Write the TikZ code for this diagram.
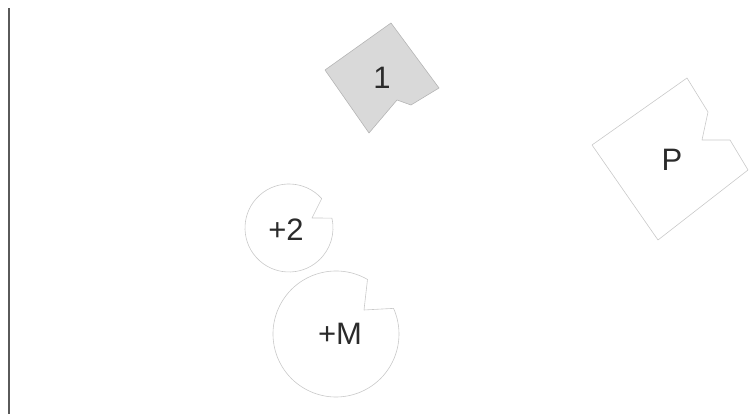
\documentclass[tikz,border=0pt]{standalone}
\usepackage{fontspec}
\setmainfont{Liberation Sans}
\usetikzlibrary{positioning,calc}
\definecolor{cEdge}{HTML}{C9C9C9}
\definecolor{cPiece}{HTML}{D9D9D9}
\definecolor{cPieceEdge}{HTML}{B5B5B5}
\definecolor{cInk}{HTML}{2B2B2B}
\definecolor{cRule}{HTML}{5A5A5A}

\begin{document}
\begin{tikzpicture}[x=1pt,y=1pt,
    piece/.style={draw=cEdge,line width=0.6pt,line join=round},
    tile/.style={draw=cPieceEdge,fill=cPiece,line width=0.6pt,line join=round},
    tag/.style={text=cInk,inner sep=0pt,font=\fontsize{31}{33}\selectfont}]
  \useasboundingbox (0,0) rectangle (750,414);
  % left rule
  \draw[cRule,line width=1.2pt] (9,0) -- (9,406);
  % grey tile "1"
  \draw[tile] (391,391) -- (325,344) -- (369,281) -- (397,314) -- (411,309) -- (439,326) -- cycle;
  \node[tag] (lblOne) at (382,336) {1};
  % open tile "P"
  \draw[piece] (687,336) -- (708,302) -- (702,274) -- (730,274) -- (748,244) -- (658,174) -- (592,269) -- cycle;
  \node[tag] (lblP) at (672,254) {P};
  % small disc "+2"
  \coordinate (cTwo) at (289,186);
  \draw[piece] ($(cTwo)+(42:44)$) arc[start angle=42,end angle=373,radius=44] -- (312,196) -- cycle;
  \node[tag] (lblTwo) at (286,184) {+2};
  % big disc "+M"
  \coordinate (cM) at (336,80);
  \draw[piece] ($(cM)+(60:63)$) arc[start angle=60,end angle=384,radius=63] -- (364,104) -- cycle;
  \node[tag] (lblM) at (340,80) {+M};
\end{tikzpicture}
\end{document}
